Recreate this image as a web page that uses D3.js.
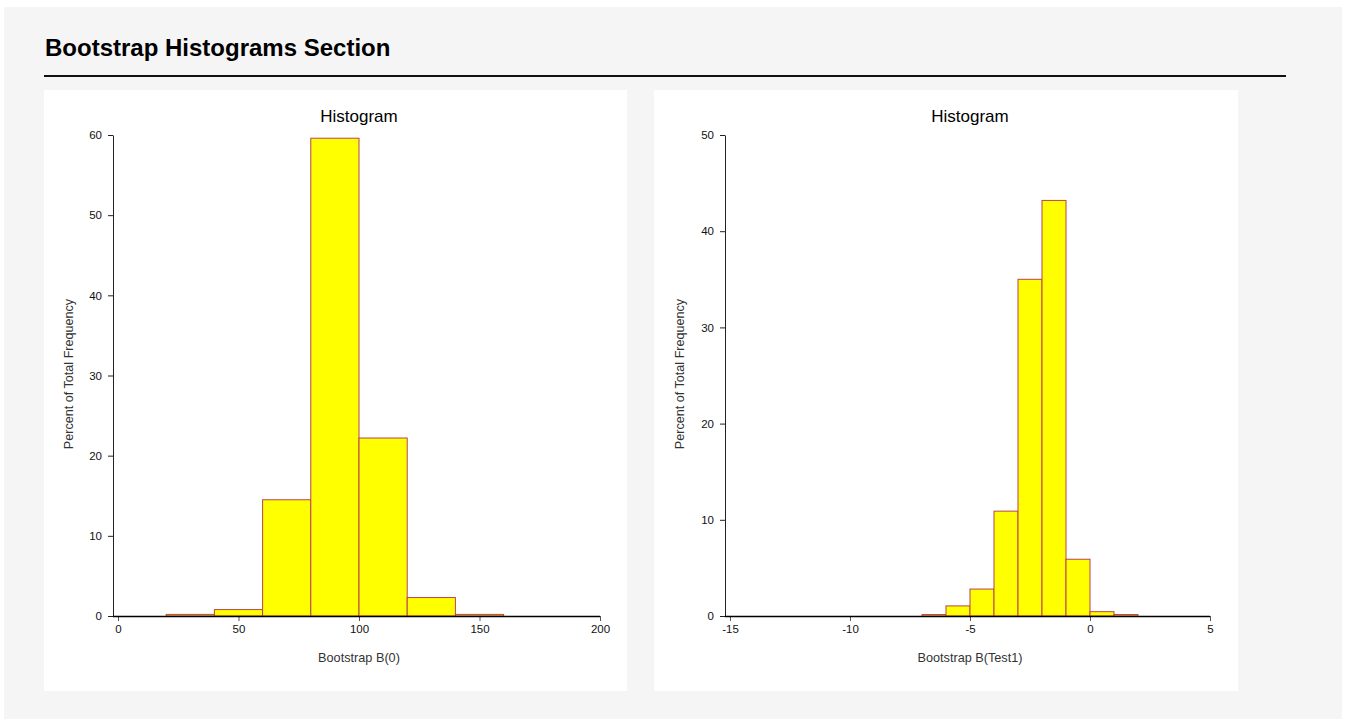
<!DOCTYPE html>
<html><head><meta charset="utf-8">
<script src="https://cdn.jsdelivr.net/npm/d3@7"></script>
<style>
body{margin:0;background:#fff;}
text{font-family:Arial,"Liberation Sans",sans-serif;}
</style></head>
<body><svg id="c" width="1346" height="719"></svg>
<script>
// ---- data ----
const pageTitle = "Bootstrap Histograms Section";
const chartTitle = "Histogram";
const yTitle = "Percent of Total Frequency";

const leftXLabel = "Bootstrap B(0)";
const leftBinStarts = [20, 40, 60, 80, 100, 120, 140];
const leftBinWidth = 20;
const leftValues = [0.2, 0.8, 14.5, 59.6, 22.2, 2.3, 0.2];
const leftXTicks = [0, 50, 100, 150, 200];
const leftYTicks = [0, 10, 20, 30, 40, 50, 60];

const rightXLabel = "Bootstrap B(Test1)";
const rightBinStarts = [-7, -6, -5, -4, -3, -2, -1, 0, 1];
const rightBinWidth = 1;
const rightValues = [0.15, 1.05, 2.8, 10.9, 35.0, 43.2, 5.9, 0.45, 0.15];
const rightXTicks = [-15, -10, -5, 0, 5];
const rightYTicks = [0, 10, 20, 30, 40, 50];

// ---- drawing ----
const svg = d3.select("#c");
svg.append("rect").attr("x",4).attr("y",7).attr("width",1338).attr("height",712).attr("fill","#f5f5f5");
svg.append("text").attr("x",45).attr("y",56).attr("font-size",24).attr("font-weight","bold").attr("fill","#000").text(pageTitle);
svg.append("rect").attr("x",44).attr("y",75).attr("width",1242).attr("height",2).attr("fill","#111");

function histo(cfg){
  const g = svg.append("g");
  g.append("rect").attr("x",cfg.panel[0]).attr("y",90).attr("width",cfg.panel[1]-cfg.panel[0]).attr("height",601).attr("fill","#fff");
  const x = d3.scaleLinear().domain([cfg.xTicks[0], cfg.xTicks[cfg.xTicks.length-1]]).range(cfg.xr);
  const y = d3.scaleLinear().domain([0, cfg.yTicks[cfg.yTicks.length-1]]).range([616,135]);
  // bars
  g.selectAll("rect.bar").data(cfg.values).enter().append("rect").attr("class","bar")
    .attr("x",(d,i)=>x(cfg.starts[i]))
    .attr("width",(d,i)=>x(cfg.starts[i]+cfg.w)-x(cfg.starts[i]))
    .attr("y",d=>y(d)).attr("height",d=>y(0)-y(d))
    .attr("fill","#ffff00").attr("stroke","#b8434f").attr("stroke-width",1);
  // y axis
  const ya = g.append("g").attr("transform",`translate(${cfg.yAxisX},0)`)
    .call(d3.axisLeft(y).tickValues(cfg.yTicks).tickFormat(d=>String(d)).tickSize(5).tickSizeOuter(0).tickPadding(6));
  ya.select(".domain").attr("stroke","#222");
  ya.selectAll(".tick line").attr("stroke","#222");
  ya.selectAll("text").attr("font-size",11.5).attr("fill","#111").style("font-family","Arial, 'Liberation Sans', sans-serif");
  // x axis
  const xa = g.append("g").attr("transform","translate(0,616)")
    .call(d3.axisBottom(x).tickValues(cfg.xTicks).tickFormat(d=>String(d)).tickSize(5).tickSizeOuter(0).tickPadding(4));
  xa.select(".domain").remove();
  xa.selectAll(".tick line").attr("stroke","#555");
  xa.selectAll("text").attr("font-size",11.5).attr("fill","#111").style("font-family","Arial, 'Liberation Sans', sans-serif");
  g.append("line").attr("x1",cfg.yAxisX).attr("x2",cfg.xr[1]).attr("y1",616.5).attr("y2",616.5).attr("stroke","#000").attr("stroke-width",1.5);
  // titles
  const cx = (cfg.xr[0]+cfg.xr[1])/2;
  g.append("text").attr("x",cx).attr("y",122).attr("text-anchor","middle").attr("font-size",17).attr("fill","#000").text(chartTitle);
  g.append("text").attr("x",cx).attr("y",662).attr("text-anchor","middle").attr("font-size",12.7).attr("fill","#333").text(cfg.xLabel);
  g.append("text").attr("transform",`translate(${cfg.yTitleX},374) rotate(-90)`).attr("text-anchor","middle").attr("font-size",12.6).attr("fill","#333").text(yTitle);
}

histo({panel:[44,627], xr:[118,600], yAxisX:113, yTitleX:73, starts:leftBinStarts, w:leftBinWidth, values:leftValues, xTicks:leftXTicks, yTicks:leftYTicks, xLabel:leftXLabel});
histo({panel:[654,1238], xr:[730,1210], yAxisX:725, yTitleX:684, starts:rightBinStarts, w:rightBinWidth, values:rightValues, xTicks:rightXTicks, yTicks:rightYTicks, xLabel:rightXLabel});
</script></body></html>
